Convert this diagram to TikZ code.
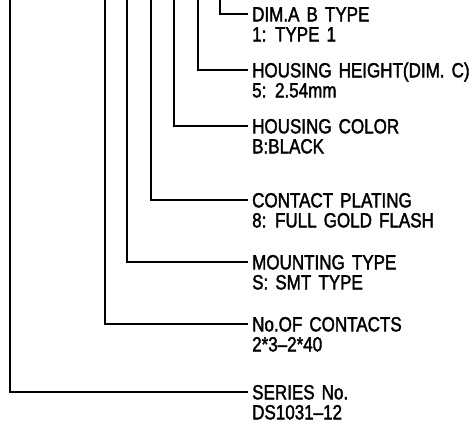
\documentclass[tikz,border=0pt]{standalone}
\usepackage{fontspec}
\setmainfont{Liberation Sans}[FakeBold=1.8, FakeStretch=0.83, WordSpace=1.5]
\usetikzlibrary{positioning}
\tikzset{lbl/.style = {anchor=west, inner xsep=3.5pt, inner ysep=0pt, text height=14.7pt, text depth=0pt, font=\fontsize{20.5}{22}\selectfont}}
\tikzset{every picture/.style={
    every path/.style={line width=1.4pt},
}}

\begin{document}
\begin{tikzpicture}[x=1pt,y=-1pt]
      \useasboundingbox (0,0) rectangle (474,424);

      \coordinate (tseries)   at (10,-2);
      \coordinate (tcontacts) at (105,-2);
      \coordinate (tmounting) at (127,-2);
      \coordinate (tplating)  at (151,-2);
      \coordinate (tcolor)    at (174,-2);
      \coordinate (theight)   at (198,-2);
      \coordinate (tdimab)    at (220,-2);

      \node[lbl] (dimab)    at (248,14)  {DIM.A B TYPE};
      \node[lbl] (height)   at (248,70)  {HOUSING HEIGHT(DIM. C)};
      \node[lbl] (color)    at (248,126) {HOUSING COLOR};
      \node[lbl] (plating)  at (248,200) {CONTACT PLATING};
      \node[lbl] (mounting) at (248,262) {MOUNTING TYPE};
      \node[lbl] (contacts) at (248,324) {No.OF CONTACTS};
      \node[lbl] (series)   at (248,392) {SERIES No.};

      \node[lbl] (dimabval)    at ([yshift=-20pt]dimab.west)    {1: TYPE 1};
      \node[lbl] (heightval)   at ([yshift=-20pt]height.west)   {5: 2.54mm};
      \node[lbl] (colorval)    at ([yshift=-20pt]color.west)    {B:BLACK};
      \node[lbl] (platingval)  at ([yshift=-20pt]plating.west)  {8: FULL GOLD FLASH};
      \node[lbl] (mountingval) at ([yshift=-20pt]mounting.west) {S: SMT TYPE};
      \node[lbl] (contactsval) at ([yshift=-20pt]contacts.west) {2*3--2*40};
      \node[lbl] (seriesval)   at ([yshift=-20pt]series.west)   {DS1031--12};

      \foreach \n in {dimab,height,color,plating,mounting,contacts,series}
        \draw (t\n) |- (\n.west);
  \end{tikzpicture}
\end{document}
